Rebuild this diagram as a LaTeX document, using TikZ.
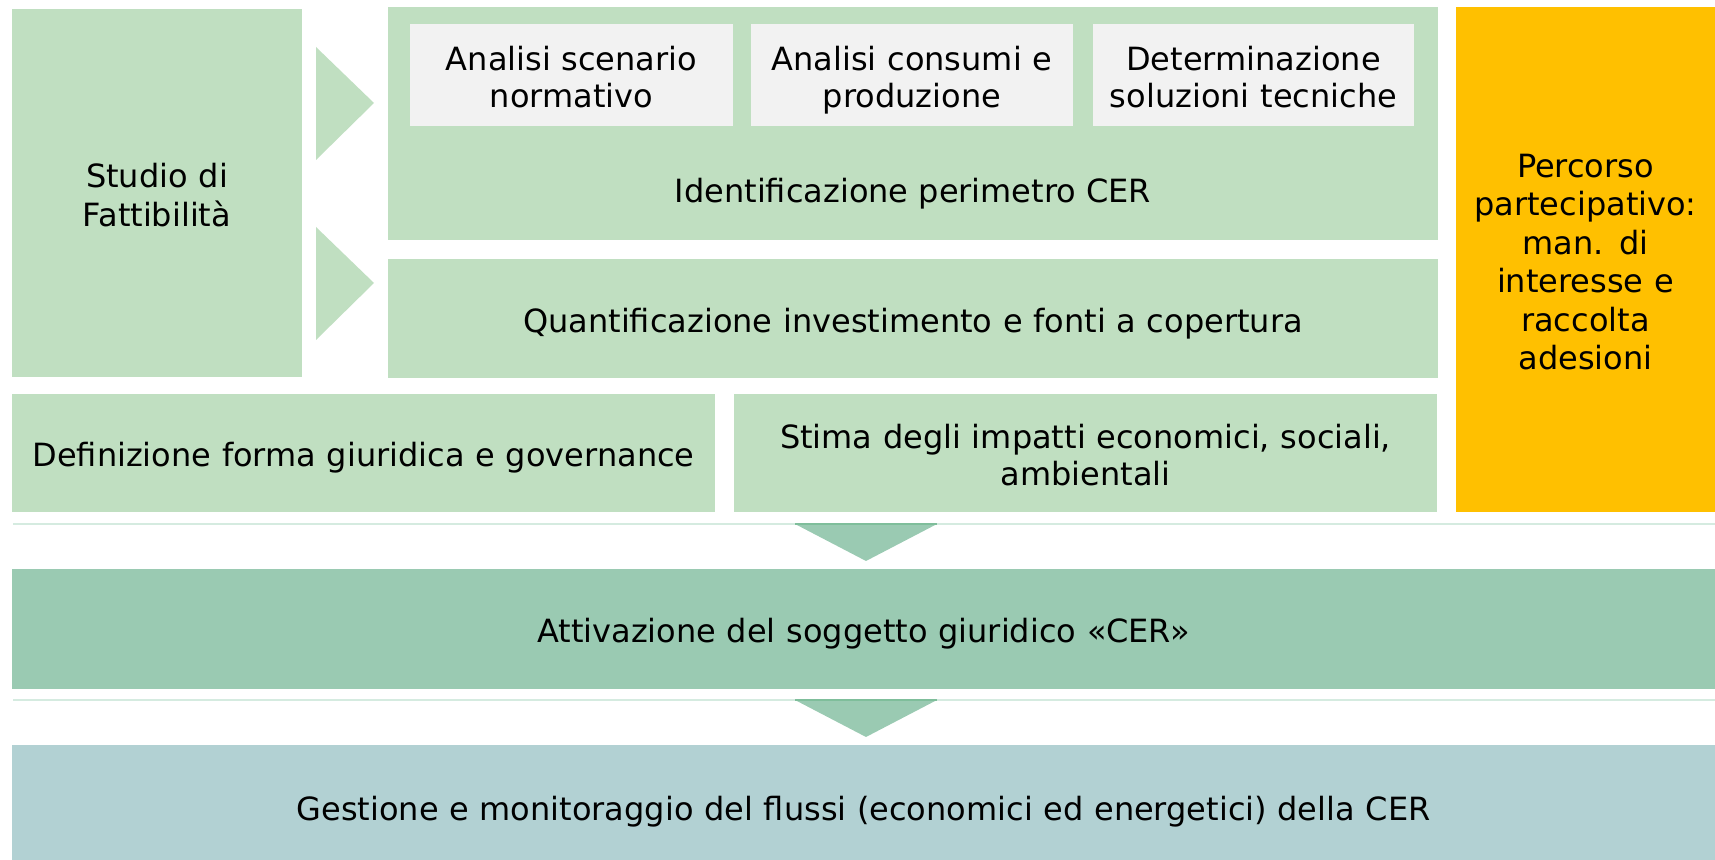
\documentclass[tikz,border=0pt]{standalone}
\usepackage{fontspec}
\setmainfont{DejaVu Sans}
\usetikzlibrary{positioning}

\definecolor{cerGreen}{RGB}{192,223,193}
\definecolor{cerGray}{RGB}{242,242,242}
\definecolor{cerOrange}{RGB}{255,192,0}
\definecolor{cerMint}{RGB}{154,202,178}
\definecolor{cerDark}{RGB}{127,190,155}
\definecolor{cerTeal}{RGB}{178,209,211}
\definecolor{cerLine}{RGB}{213,235,224}

\tikzset{every picture/.style={line width=0.75pt}}
\tikzset{
  dims/.style 2 args={minimum width=#1, text width=#1, minimum height=#2},
  blk/.style={inner sep=0pt, outer sep=0pt, align=center, text=black,
    font=\fontsize{16}{19.2}\selectfont,
    execute at begin node={\rule{0pt}{18.5pt}},
    execute at end node={\rule[-4.5pt]{0pt}{4.5pt}}},
  sub/.style={blk, fill=cerGray, dims={161pt}{51pt},
    font=\fontsize{16}{18.7}\selectfont,
    execute at begin node={\rule{0pt}{17.2pt}}},
  txt/.style={inner sep=0pt, anchor=base, text=black,
    font=\fontsize{16}{19.2}\selectfont},
  sep/.style={draw=cerLine, line width=0.75pt}
}

\begin{document}
\begin{tikzpicture}[x=0.5pt,y=-0.5pt]
\useasboundingbox (0,0) rectangle (1715,860);

% Blocks
\node [blk, fill=cerGreen, dims={145pt}{184pt}] (studio) at (157,193) {Studio di\\Fattibilità};
\node [blk, fill=cerGreen, dims={525pt}{116.5pt}] (perimetro) at (913,123.5) {};
\node [sub, dims={161.5pt}{51pt}] (scenario) at (571.5,75) {Analisi scenario\\normativo};
\node [sub] (consumi) at (912,75) {Analisi consumi e\\produzione};
\node [sub, dims={160.5pt}{51pt}] (soluzioni) at (1253.5,75) {Determinazione\\soluzioni tecniche};
% Text Node
\node [txt] (perimetrotxt) at (913,202.3) {Identificazione perimetro CER};
\node [blk, fill=cerGreen, dims={525pt}{59.5pt}] (investimento) at (913,318.5) {Quantificazione investimento e fonti a copertura};
\node [blk, fill=cerGreen, dims={351.5pt}{59pt}] (forma) at (363.5,453) {Definizione forma giuridica e governance};
\node [blk, fill=cerGreen, dims={351.5pt}{59pt}, font=\fontsize{16}{18.6}\selectfont] (impatti) at (1085.5,453) {Stima degli impatti economici, sociali,\\ambientali};
\node [blk, fill=cerOrange, dims={129.5pt}{252.5pt}] (percorso) at (1585.5,259.5) {Percorso\\partecipativo:\\man. di\\interesse e\\raccolta\\adesioni};
\node [blk, fill=cerMint, dims={851.5pt}{60pt}] (attivazione) at (863.5,629) {Attivazione del soggetto giuridico «CER»};
\node [blk, fill=cerTeal, dims={851.5pt}{57.5pt}, execute at begin node={\rule{0pt}{22.7pt}}] (gestione) at (863.5,802.5) {Gestione e monitoraggio del flussi (economici ed energetici) della CER};

% Right arrows
\fill [cerGreen] (316,47) -- (374,103) -- (316,160) -- cycle;
\fill [cerGreen] (316,227) -- (374,283) -- (316,340) -- cycle;

% Separators
\draw [sep] (13,524) -- (1715,524);
\draw [sep] (13,700) -- (1715,700);

% Down arrows
\fill [cerMint] (795,524) -- (937,524) -- (866,561) -- cycle;
\draw [cerDark, line width=0.75pt] (795,524) -- (937,524);
\fill [cerMint] (795,700) -- (937,700) -- (866,737) -- cycle;
\draw [cerDark, line width=0.75pt] (795,700) -- (937,700);
\end{tikzpicture}
\end{document}
